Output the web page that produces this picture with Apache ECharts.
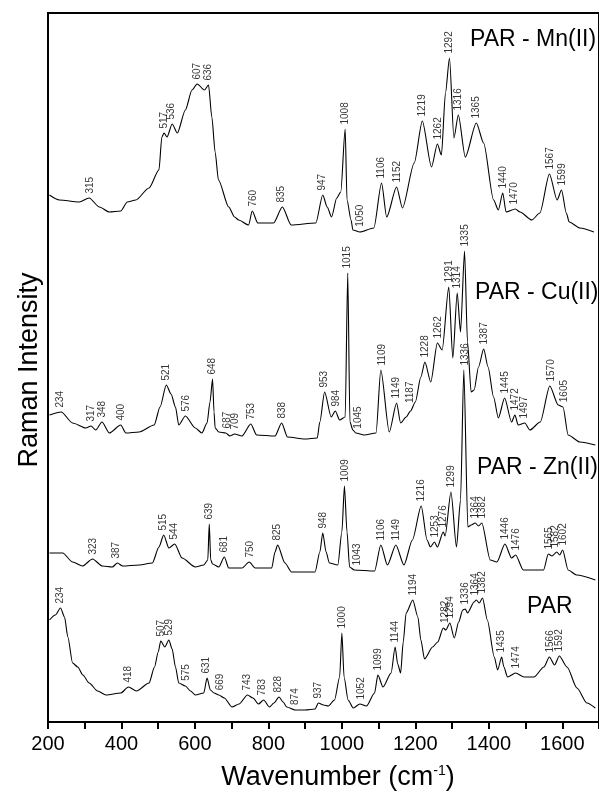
<!DOCTYPE html>
<html>
<head>
<meta charset="utf-8">
<script src="https://cdn.jsdelivr.net/npm/echarts@6/dist/echarts.min.js"></script>
<style>
  html, body { margin: 0; padding: 0; background: #fff; }
  #chart { width: 599px; height: 791px; }
</style>
</head>
<body>
<div id="chart"></div>
<script>
// Raman spectra of PAR and its Mn(II), Cu(II) and Zn(II) complexes.
// Each trace is [wavenumber (cm-1), intensity (a.u.)], already stacked with a vertical offset.
const FONT = 'Arial, "Liberation Sans", Helvetica, sans-serif';

const xRange = [200, 1700];
const xTickStep = 200;
const yRange = [0, 709];

const parTrace = [
  [204,102],[220,107],[234,114],[245,105],[254,85],[267,59],[281,55],[295,47],[312,39],[335,31],
  [358,27],[398,29],[419,35],[441,31],[475,39],[490,55],[500,70],[507,81],[518,75],[529,82],
  [538,73],[547,55],[556,39],[574,36],[588,31],[601,27],[624,29],[633,44],[642,32],[652,29],
  [665,27],[680,24],[701,15],[720,18],[743,27],[758,24],[773,18],[787,22],[803,15],[815,19],
  [829,25],[840,20],[850,15],[873,12],[900,12],[927,13],[936,19],[950,17],[963,16],[980,22],
  [994,45],[1000,89],[1006,45],[1017,22],[1031,14],[1049,18],[1067,16],[1089,29],[1098,47],[1112,35],
  [1134,49],[1145,75],[1152,58],[1160,49],[1167,80],[1175,109],[1193,122],[1207,105],[1215,82],[1225,63],
  [1247,75],[1261,80],[1276,94],[1283,92],[1294,99],[1306,84],[1318,100],[1329,112],[1336,113],[1342,109],
  [1360,120],[1366,122],[1374,119],[1383,124],[1396,102],[1415,65],[1424,52],[1435,65],[1441,55],[1451,45],
  [1473,49],[1496,45],[1523,45],[1550,55],[1565,65],[1579,57],[1592,66],[1613,55],[1640,34],[1667,19],
  [1690,14]
];

const znTrace = [
  [204,169],[240,169],[267,160],[294,156],[321,163],[348,156],[375,155],[389,159],[403,156],[448,157],
  [484,159],[502,175],[515,187],[529,174],[545,178],[565,164],[601,155],[624,157],[635,162],[639,198],
  [643,162],[648,158],[665,155],[680,165],[692,154],[728,154],[748,160],[764,154],[809,154],[818,170],
  [825,177],[845,159],[863,150],[927,150],[940,170],[948,189],[957,170],[966,159],[989,157],[1000,190],
  [1007,236],[1014,190],[1021,155],[1034,152],[1089,151],[1106,177],[1124,157],[1147,177],[1169,157],[1192,182],
  [1216,216],[1232,182],[1241,175],[1252,180],[1260,175],[1276,190],[1281,186],[1297,230],[1312,175],[1323,222],
  [1332,352],[1343,195],[1352,197],[1363,199],[1372,196],[1381,199],[1404,162],[1422,160],[1444,178],[1462,164],
  [1473,167],[1494,152],[1549,152],[1562,168],[1572,166],[1585,170],[1593,167],[1601,172],[1616,152],[1639,147],
  [1690,142]
];

const cuTrace = [
  [204,307],[236,310],[267,299],[303,294],[317,296],[330,292],[347,300],[367,289],[398,297],[412,289],
  [448,290],[489,297],[505,315],[522,337],[535,328],[547,315],[556,297],[574,306],[601,294],[619,289],
  [633,299],[641,320],[648,343],[652,310],[655,294],[665,290],[684,289],[695,286],[708,288],[728,286],
  [752,298],[768,287],[818,286],[836,299],[852,285],[899,283],[933,284],[940,300],[953,330],[971,305],
  [982,311],[994,302],[1009,305],[1016,449],[1022,300],[1030,292],[1038,289],[1061,287],[1093,289],[1106,352],
  [1129,290],[1149,319],[1160,299],[1175,305],[1187,311],[1200,320],[1215,345],[1226,360],[1242,340],[1260,379],
  [1273,372],[1291,435],[1302,364],[1314,429],[1323,390],[1334,471],[1342,380],[1352,330],[1360,332],[1372,355],
  [1386,373],[1398,355],[1413,325],[1426,304],[1443,324],[1462,300],[1471,307],[1480,297],[1498,299],[1512,292],
  [1540,300],[1566,336],[1589,317],[1602,315],[1616,287],[1648,280],[1690,277]
];

const mnTrace = [
  [204,527],[231,522],[285,520],[312,524],[340,515],[367,510],[398,511],[416,520],[439,522],[475,534],
  [502,552],[510,585],[516,589],[524,585],[538,598],[552,589],[574,612],[592,632],[606,638],[626,632],
  [637,637],[646,605],[655,570],[664,542],[692,515],[708,505],[719,502],[746,497],[756,511],[771,499],
  [814,499],[838,515],[862,497],[929,499],[948,527],[960,515],[972,505],[986,524],[997,530],[1009,593],
  [1014,522],[1025,502],[1030,492],[1049,490],[1087,494],[1108,539],[1122,505],[1149,535],[1165,514],[1197,559],
  [1219,601],[1244,555],[1260,578],[1271,567],[1282,629],[1293,664],[1305,584],[1317,607],[1336,565],[1366,599],
  [1386,579],[1413,522],[1426,512],[1438,529],[1447,510],[1472,513],[1485,510],[1517,502],[1539,509],[1565,548],
  [1586,522],[1598,532],[1611,509],[1619,500],[1648,494],[1686,490]
];

// Assigned band positions (cm-1) for each spectrum
const parPeaks = [234,418,507,529,575,631,669,743,783,828,874,937,1000,1052,1099,1144,1194,1282,1294,1336,1364,1382,1435,1474,1566,1592];
const znPeaks  = [323,387,515,544,639,681,750,825,948,1009,1043,1106,1149,1216,1253,1276,1299,1336,1364,1382,1446,1476,1565,1582,1602];
const cuPeaks  = [234,317,348,400,521,576,648,687,709,753,838,953,984,1015,1045,1109,1149,1187,1228,1262,1291,1314,1335,1387,1445,1472,1497,1570,1605];
const mnPeaks  = [315,517,536,607,636,760,835,947,1008,1050,1106,1152,1219,1262,1292,1316,1365,1440,1470,1567,1599];

const spectra = [
  { name: 'PAR',          trace: parTrace, peaks: parPeaks, tag: { x: 527, y: 607 } },
  { name: 'PAR - Zn(II)', trace: znTrace,  peaks: znPeaks,  tag: { x: 477, y: 468 } },
  { name: 'PAR - Cu(II)', trace: cuTrace,  peaks: cuPeaks,  tag: { x: 475, y: 293 } },
  { name: 'PAR - Mn(II)', trace: mnTrace,  peaks: mnPeaks,  tag: { x: 470, y: 40 } }
];

function interp(trace, x) {
  if (x <= trace[0][0]) return trace[0][1];
  for (let i = 0; i < trace.length - 1; i++) {
    const a = trace[i], b = trace[i + 1];
    if (x >= a[0] && x <= b[0]) return a[1] + (b[1] - a[1]) * (x - a[0]) / (b[0] - a[0]);
  }
  return trace[trace.length - 1][1];
}

// Height of the band top next to an assigned position, used to seat its label
function bandTop(trace, wn) {
  let best = -Infinity;
  for (let x = wn - 5; x <= wn + 5; x += 0.5) best = Math.max(best, interp(trace, x));
  return best;
}

const series = [];
spectra.forEach(s => {
  series.push({
    type: 'line',
    name: s.name,
    data: s.trace,
    showSymbol: false,
    symbol: 'none',
    smooth: 0.25,
    smoothMonotone: 'x',
    lineStyle: { color: '#000', width: 1.1 },
    silent: true,
    z: 3
  });
  series.push({
    type: 'scatter',
    name: s.name + ' bands',
    data: s.peaks.map(wn => [wn, bandTop(s.trace, wn)]),
    symbolSize: 1,
    itemStyle: { color: 'rgba(0,0,0,0)' },
    silent: true,
    z: 4,
    label: {
      show: true,
      position: 'top',
      distance: 4,
      rotate: 90,
      align: 'left',
      verticalAlign: 'middle',
      formatter: p => String(p.value[0]),
      fontSize: 10,
      fontFamily: FONT,
      color: '#000'
    }
  });
});

const graphics = spectra.map(s => ({
  type: 'text',
  x: s.tag.x,
  y: s.tag.y,
  silent: true,
  style: {
    text: s.name,
    fontSize: 23,
    fontFamily: FONT,
    fill: '#000',
    align: 'left',
    verticalAlign: 'middle'
  }
}));

graphics.push({
  type: 'text',
  x: 30,
  y: 370,
  rotation: Math.PI / 2,
  silent: true,
  style: {
    text: 'Raman Intensity',
    fontSize: 27,
    fontFamily: FONT,
    fill: '#000',
    align: 'center',
    verticalAlign: 'middle'
  }
});

graphics.push({
  type: 'text',
  x: 338,
  y: 778,
  silent: true,
  style: {
    text: 'Wavenumber (cm{sup|-1})',
    fontSize: 27,
    fontFamily: FONT,
    fill: '#000',
    align: 'center',
    verticalAlign: 'middle',
    rich: {
      sup: { fontSize: 14, fontFamily: FONT, fill: '#000', verticalAlign: 'top' }
    }
  }
});

const chart = echarts.init(document.getElementById('chart'), null, { renderer: 'canvas' });
chart.setOption({
  animation: false,
  backgroundColor: '#fff',
  grid: {
    left: 48,
    top: 13,
    width: 555,
    height: 709,
    show: true,
    borderColor: '#000',
    borderWidth: 2,
    backgroundColor: 'transparent'
  },
  xAxis: {
    type: 'value',
    min: xRange[0],
    max: xRange[1],
    interval: xTickStep,
    axisLine: { show: true, lineStyle: { color: '#000', width: 2 } },
    axisTick: { show: true, inside: false, length: 7, lineStyle: { color: '#000', width: 2 } },
    minorTick: { show: true, splitNumber: 2, length: 7, lineStyle: { color: '#000', width: 2 } },
    axisLabel: {
      fontSize: 20,
      fontFamily: FONT,
      color: '#000',
      margin: 12,
      showMaxLabel: false,
      formatter: v => String(v)
    },
    splitLine: { show: false },
    minorSplitLine: { show: false }
  },
  yAxis: {
    type: 'value',
    min: yRange[0],
    max: yRange[1],
    axisLine: { show: true, lineStyle: { color: '#000', width: 2 } },
    axisTick: { show: false },
    axisLabel: { show: false },
    splitLine: { show: false }
  },
  graphic: graphics,
  series: series
});
</script>
</body>
</html>
